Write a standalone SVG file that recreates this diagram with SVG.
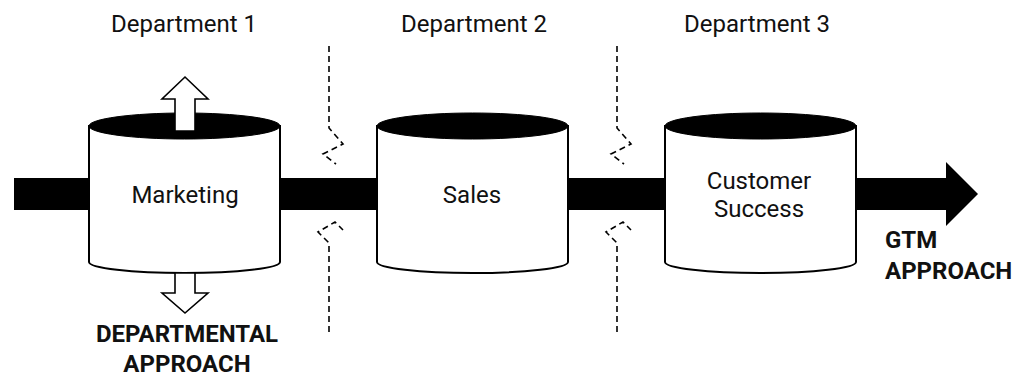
<svg xmlns="http://www.w3.org/2000/svg" width="1024" height="376" viewBox="0 0 1024 376">
<defs>
<style>
.lbl{font-family:Roboto,"Liberation Sans",sans-serif;font-size:24px;fill:#111;text-anchor:middle}
.bold{font-family:Roboto,"Liberation Sans",sans-serif;font-size:24px;font-weight:bold;fill:#111}
.body{fill:#fff;stroke:#000;stroke-width:2}
.top{fill:#000;stroke:#000;stroke-width:1}
.dash{fill:none;stroke:#000;stroke-width:1.6;stroke-dasharray:6 4}
.hollow{fill:#fff;stroke:#000;stroke-width:1.6;stroke-linejoin:miter}
</style>
</defs>
<rect width="1024" height="376" fill="#fff"/>
<g id="connectors">
<rect x="14" y="178" width="934" height="32" fill="#000"/>
<polygon points="946,162 978,194 946,226" fill="#000"/>
<path class="dash" d="M329,46 L329,128 L343,144 L323,154 L336,164"/>
<path class="dash" d="M329,332 L329,243 L318,232 L335,222 L343,230"/>
<path class="dash" d="M617,46 L617,128 L631,144 L611,154 L624,164"/>
<path class="dash" d="M617,332 L617,243 L606,232 L623,222 L631,230"/>
</g>
<g id="marketing">
<path class="body" d="M89,126 L89,262 A95.5,11 0 0 0 280,262 L280,126 Z"/>
<ellipse class="top" cx="184.5" cy="126" rx="95.5" ry="13"/>
<text class="lbl" x="185" y="203">Marketing</text>
</g>
<g id="sales">
<path class="body" d="M377,126 L377,262 A95.5,11 0 0 0 568,262 L568,126 Z"/>
<ellipse class="top" cx="472.5" cy="126" rx="95.5" ry="13"/>
<text class="lbl" x="472" y="203">Sales</text>
</g>
<g id="customer-success">
<path class="body" d="M665,126 L665,262 A95.5,11 0 0 0 856,262 L856,126 Z"/>
<ellipse class="top" cx="760.5" cy="126" rx="95.5" ry="13"/>
<text class="lbl" x="759" y="189">Customer</text>
<text class="lbl" x="759" y="217">Success</text>
</g>
<g id="up-arrow">
<polygon class="hollow" points="175,131 175,99 162,99 185,77 208,99 195,99 195,131"/>
</g>
<g id="down-arrow">
<polygon class="hollow" points="175,273 175,293 162,293 185,313 208,293 195,293 195,273"/>
</g>
<g id="dept-labels">
<text class="lbl" x="184" y="32">Department 1</text>
<text class="lbl" x="474" y="32">Department 2</text>
<text class="lbl" x="757" y="32">Department 3</text>
</g>
<g id="departmental-label">
<text class="bold" x="187" y="342" text-anchor="middle">DEPARTMENTAL</text>
<text class="bold" x="187" y="372" text-anchor="middle">APPROACH</text>
</g>
<g id="gtm-label">
<text class="bold" x="885" y="248">GTM</text>
<text class="bold" x="885" y="279">APPROACH</text>
</g>
</svg>
